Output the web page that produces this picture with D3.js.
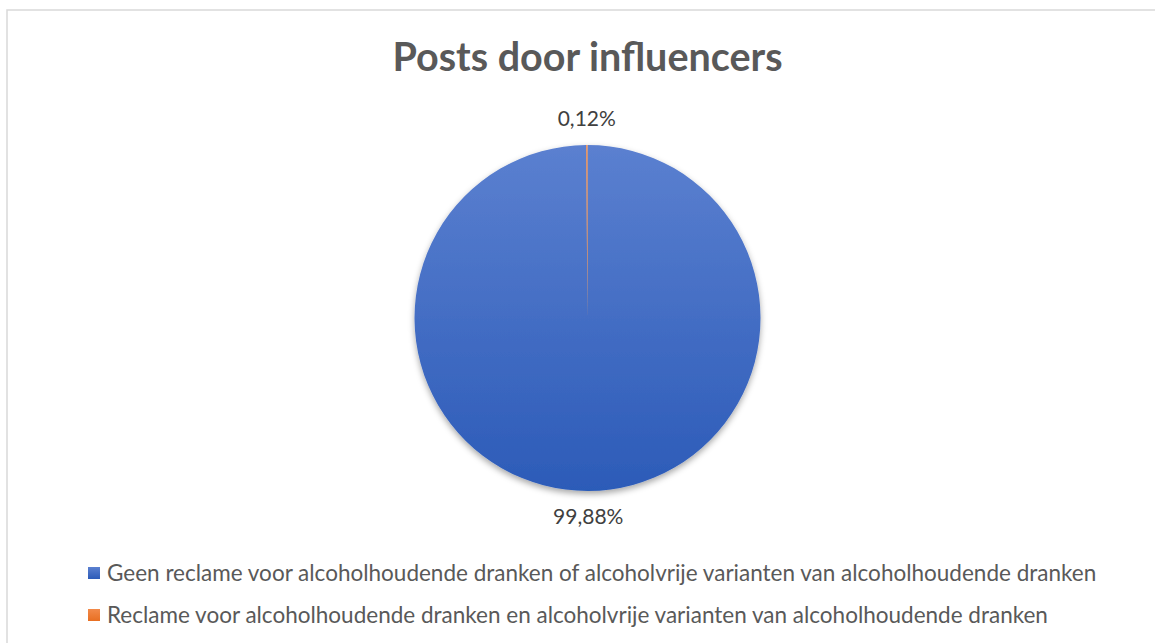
<!DOCTYPE html>
<html>
<head>
<meta charset="utf-8">
<script src="https://cdn.jsdelivr.net/npm/d3@7"></script>
<style>
  html, body { margin: 0; padding: 0; background: #ffffff; }
  svg { display: block; }
</style>
</head>
<body>
<svg id="chart" width="1155" height="643"></svg>
<script>
// Share of influencer posts by type of advertising
const categories = [
  "Geen reclame voor alcoholhoudende dranken of alcoholvrije varianten van alcoholhoudende dranken",
  "Reclame voor alcoholhoudende dranken en alcoholvrije varianten van alcoholhoudende dranken"
];
const values = [99.88, 0.12];
const valueLabels = ["99,88%", "0,12%"];
const title = "Posts door influencers";

const colorsTop = ["#5b80d0", "#f28a4a"];
const colorsBottom = ["#2c5bb8", "#e86f22"];

const svg = d3.select("#chart");
const W = 1155, H = 643;
const cx = 587.5, cy = 318, r = 173;
const fontFam = "Lato, 'Open Sans', sans-serif";

// chart frame
svg.append("rect")
  .attr("x", 7).attr("y", 10)
  .attr("width", W + 10).attr("height", H + 10)
  .attr("fill", "#ffffff")
  .attr("stroke", "#d9d9d9").attr("stroke-width", 1.5);

const defs = svg.append("defs");
categories.forEach((c, i) => {
  const g = defs.append("linearGradient")
    .attr("id", "grad" + i)
    .attr("gradientUnits", "userSpaceOnUse")
    .attr("x1", 0).attr("y1", -r).attr("x2", 0).attr("y2", r);
  g.append("stop").attr("offset", "0%").attr("stop-color", colorsTop[i]);
  g.append("stop").attr("offset", "100%").attr("stop-color", colorsBottom[i]);
  const gl = defs.append("linearGradient")
    .attr("id", "lgrad" + i)
    .attr("x1", 0).attr("y1", 0).attr("x2", 0).attr("y2", 1);
  gl.append("stop").attr("offset", "0%").attr("stop-color", colorsTop[i]);
  gl.append("stop").attr("offset", "100%").attr("stop-color", colorsBottom[i]);
});
const shadow = defs.append("filter").attr("id", "shadow")
  .attr("x", "-20%").attr("y", "-20%").attr("width", "140%").attr("height", "140%");
shadow.append("feDropShadow")
  .attr("dx", 0).attr("dy", 3).attr("stdDeviation", 3)
  .attr("flood-color", "#000").attr("flood-opacity", 0.35);

// title
svg.append("text")
  .attr("x", cx).attr("y", 71)
  .attr("text-anchor", "middle")
  .attr("font-family", fontFam)
  .attr("font-weight", "bold")
  .attr("font-size", 39.5)
  .attr("fill", "#595959")
  .text(title);

// pie
const pie = d3.pie().sort(null).value(d => d);
const arcs = pie(values);
const arc = d3.arc().innerRadius(0).outerRadius(r);

const pg = svg.append("g")
  .attr("transform", `translate(${cx},${cy})`)
  .attr("filter", "url(#shadow)");
pg.selectAll("path")
  .data(arcs)
  .join("path")
  .attr("d", arc)
  .attr("fill", (d, i) => `url(#grad${i})`)
  .attr("stroke", "none");

// data labels outside the pie
const labelR = r + 26;
svg.append("g")
  .attr("transform", `translate(${cx},${cy})`)
  .selectAll("text")
  .data(arcs)
  .join("text")
  .attr("x", d => Math.sin((d.startAngle + d.endAngle) / 2) * labelR)
  .attr("y", d => -Math.cos((d.startAngle + d.endAngle) / 2) * labelR)
  .attr("dy", "0.35em")
  .attr("text-anchor", "middle")
  .attr("font-family", fontFam)
  .attr("font-size", 21)
  .attr("fill", "#404040")
  .text((d, i) => valueLabels[i]);

// legend
const legend = svg.append("g");
const legendY = d3.scalePoint().domain(categories).range([573, 615]);
categories.forEach((c, i) => {
  const y = legendY(c);
  legend.append("rect")
    .attr("x", 88).attr("y", y - 6)
    .attr("width", 12).attr("height", 12)
    .attr("fill", `url(#lgrad${i})`);
  legend.append("text")
    .attr("x", 107).attr("y", y)
    .attr("dy", "0.35em")
    .attr("font-family", fontFam)
    .attr("font-size", 22.5)
    .attr("fill", "#595959")
    .text(c);
});
</script>
</body>
</html>
